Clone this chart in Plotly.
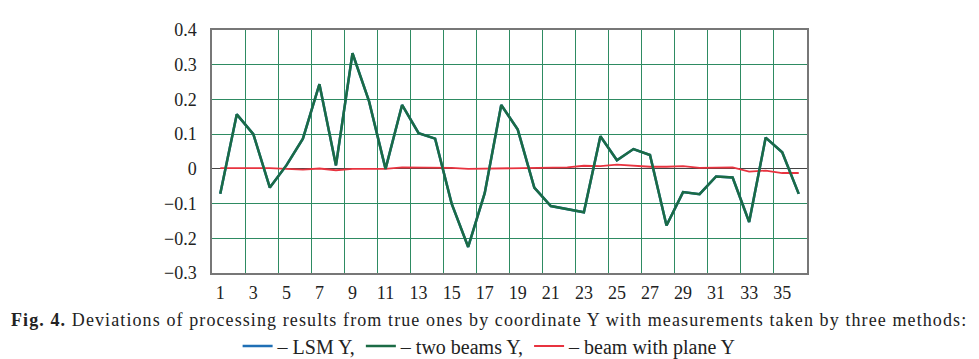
import plotly.graph_objects as go

points = list(range(1, 37))

lsm_y = [-0.072, 0.157, 0.100, -0.054, 0.010, 0.087, 0.244, 0.010, 0.333, 0.195,
         0.000, 0.184, 0.103, 0.087, -0.100, -0.225, -0.070, 0.184, 0.113, -0.054,
         -0.107, -0.116, -0.125, 0.094, 0.025, 0.057, 0.040, -0.163, -0.067, -0.073,
         -0.022, -0.025, -0.153, 0.090, 0.048, -0.072]

two_beams_y = [-0.072, 0.157, 0.100, -0.054, 0.010, 0.087, 0.244, 0.010, 0.333, 0.195,
               0.000, 0.184, 0.103, 0.087, -0.100, -0.225, -0.070, 0.184, 0.113, -0.054,
               -0.107, -0.116, -0.125, 0.094, 0.025, 0.057, 0.040, -0.163, -0.067, -0.073,
               -0.022, -0.025, -0.153, 0.090, 0.048, -0.072]

beam_plane_y = [0.002, 0.002, 0.003, 0.002, 0.000, -0.002, 0.001, -0.004, 0.000, 0.001,
                0.000, 0.004, 0.004, 0.005, 0.003, 0.000, 0.001, 0.002, 0.001, 0.003,
                0.004, 0.004, 0.009, 0.008, 0.012, 0.009, 0.006, 0.006, 0.008, 0.003,
                0.004, 0.004, -0.008, -0.005, -0.012, -0.012]

x_tickvals = list(range(1, 37, 2))
x_ticktext = [str(v) for v in x_tickvals]
y_tickvals = [0.4, 0.3, 0.2, 0.1, 0, -0.1, -0.2, -0.3]
y_ticktext = ["0.4", "0.3", "0.2", "0.1", "0", "\u22120.1", "\u22120.2", "\u22120.3"]

FONT = "Liberation Serif"
GRID = "#2e8b62"
TXT = "#222"

fig = go.Figure()
fig.add_trace(go.Scatter(x=points, y=lsm_y, mode="lines", name="\u2013 LSM Y,",
                         line=dict(color="#1f6fb5", width=2.5), legendrank=1))
fig.add_trace(go.Scatter(x=points, y=beam_plane_y, mode="lines", name="\u2013 beam with plane Y",
                         line=dict(color="#e8333f", width=1.8), legendrank=3))
fig.add_trace(go.Scatter(x=points, y=two_beams_y, mode="lines", name="\u2013 two beams Y,",
                         line=dict(color="#1b6b45", width=2.5), legendrank=2))

fig.update_layout(
    width=971, height=351,
    margin=dict(l=204, r=172, t=16, b=86),
    paper_bgcolor="white", plot_bgcolor="white",
    font=dict(family=FONT, size=18, color=TXT),
    showlegend=True,
    legend=dict(orientation="h", xref="container", yref="container",
                x=0.496, xanchor="center", y=0.037, yanchor="middle",
                font=dict(family=FONT, size=20, color=TXT), itemwidth=30,
                traceorder="normal", bgcolor="rgba(0,0,0,0)"),
    xaxis=dict(range=[0.5, 36.5], tickvals=x_tickvals, ticktext=x_ticktext,
               showgrid=False, zeroline=False, ticks="", showline=True, mirror=True,
               linecolor="#777", linewidth=1.5, ticklabelstandoff=3,
               tickfont=dict(family=FONT, size=18, color=TXT),
               minor=dict(tick0=0.5, dtick=2, showgrid=True, gridcolor=GRID, gridwidth=1.3)),
    yaxis=dict(range=[-0.3, 0.4], tickvals=y_tickvals, ticktext=y_ticktext,
               showgrid=True, gridcolor=GRID, gridwidth=1.3,
               zeroline=True, zerolinecolor="#444", zerolinewidth=1.3,
               ticks="", showline=True, mirror=True, linecolor="#777", linewidth=1.5,
               ticklabelstandoff=10,
               tickfont=dict(family=FONT, size=18, color=TXT)),
    annotations=[dict(
        xref="paper", yref="paper", x=0.466, y=-0.193, xanchor="center", yanchor="middle",
        showarrow=False, font=dict(family=FONT, size=18, color=TXT),
        text="<span style='letter-spacing:1.1px'><b>Fig. 4.</b> Deviations of processing results from true ones by coordinate Y with measurements taken by three methods:</span>")],
)

fig.write_html("out.html")
